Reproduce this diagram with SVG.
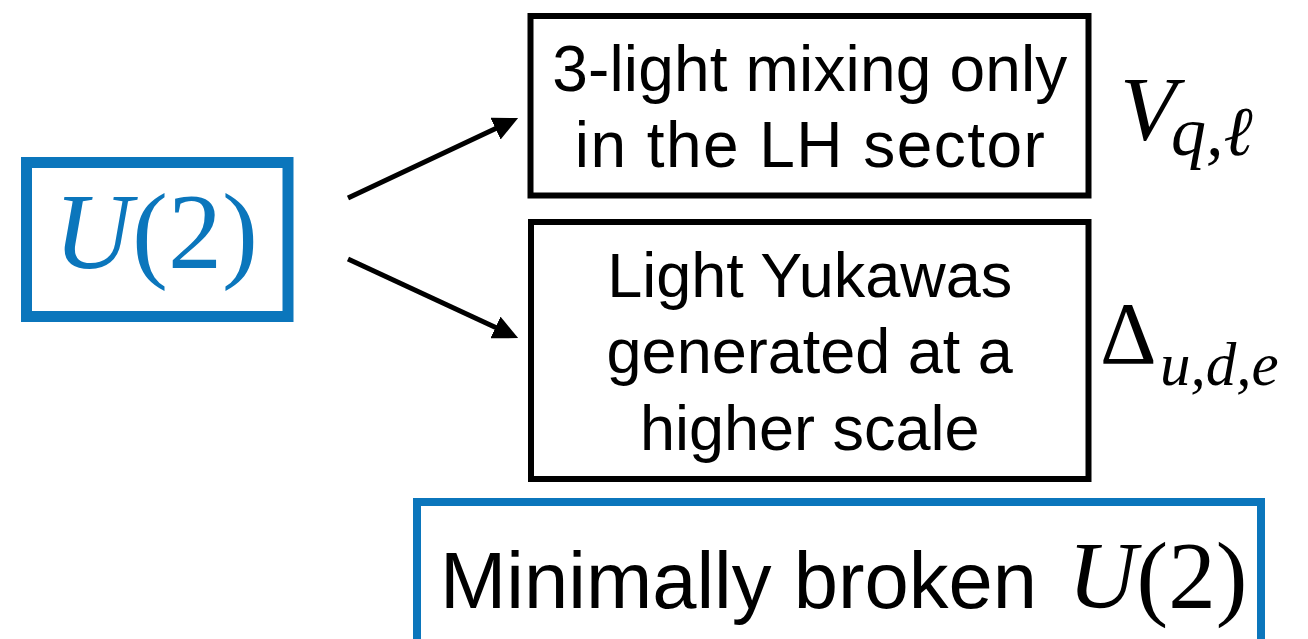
<svg xmlns="http://www.w3.org/2000/svg" width="1308" height="639" viewBox="0 0 1308 639">
<style>
.sans{font-family:"Liberation Sans",Arial,sans-serif;fill:#000}
.serif{font-family:"Liberation Serif","Times New Roman",serif}
.box{fill:#fff;stroke:#000;stroke-width:6}
.bbox{fill:#fff;stroke:#0b76bc}
.conn{stroke:#000;stroke-width:5;fill:none}
</style>
<defs>
<marker id="ah" viewBox="0 0 10 9.6" markerWidth="5" markerHeight="4.8" refX="2" refY="4.8" orient="auto" markerUnits="strokeWidth">
<path d="M0,0 L10,4.8 L0,9.6 z" fill="#000"/>
</marker>
</defs>
<rect width="1308" height="639" fill="#fff"/>
<g id="u2">
<rect class="bbox" x="26.5" y="162.5" width="261.5" height="154" stroke-width="11"/>
<text class="serif" x="156" y="268" font-size="108" text-anchor="middle" fill="#0b76bc"><tspan font-style="italic">U</tspan>(2)</text>
</g>
<g id="connectors">
<line class="conn" x1="348" y1="198" x2="500" y2="126.5" marker-end="url(#ah)"/>
<line class="conn" x1="348" y1="259" x2="500" y2="329.6" marker-end="url(#ah)"/>
</g>
<g id="mixing">
<rect class="box" x="530.5" y="16" width="558" height="179.5"/>
<text class="sans" x="809.75" y="91" font-size="64" text-anchor="middle" textLength="515" lengthAdjust="spacing">3-light mixing only</text>
<text class="sans" x="809.75" y="167" font-size="64" text-anchor="middle" textLength="470" lengthAdjust="spacing">in the LH sector</text>
</g>
<g id="vlabel">
<text class="serif" font-style="italic" fill="#000"><tspan x="1120" y="140" font-size="92">V</tspan><tspan x="1171" y="155" font-size="70">q,ℓ</tspan></text>
</g>
<g id="yukawas">
<rect class="box" x="531" y="222" width="557.5" height="257"/>
<text class="sans" x="809.75" y="297" font-size="63" text-anchor="middle">Light Yukawas</text>
<text class="sans" x="809.75" y="373" font-size="63" text-anchor="middle">generated at a</text>
<text class="sans" x="809.75" y="450" font-size="63" text-anchor="middle">higher scale</text>
</g>
<g id="dlabel">
<text class="serif" fill="#000"><tspan x="1100" y="363" font-size="88">Δ</tspan><tspan x="1160" y="385" font-size="61" font-style="italic">u,d,e</tspan></text>
</g>
<g id="minimal">
<rect class="bbox" x="417" y="502" width="844" height="160" stroke-width="8"/>
<text class="sans" x="440" y="608" font-size="79" textLength="597" lengthAdjust="spacingAndGlyphs">Minimally broken</text>
<text class="serif" x="1068" y="608" font-size="95" fill="#000"><tspan font-style="italic">U</tspan>(2)</text>
</g>
</svg>
